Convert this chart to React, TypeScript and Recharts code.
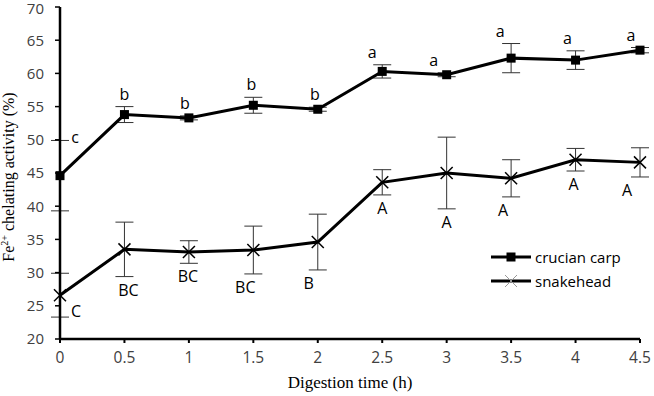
import React from 'react';
import { LineChart, Line, XAxis, YAxis, ErrorBar, LabelList } from 'recharts';

const times = [0, 0.5, 1, 1.5, 2, 2.5, 3, 3.5, 4, 4.5];
const crucianCarp = [44.6, 53.8, 53.3, 55.2, 54.6, 60.3, 59.8, 62.3, 62.0, 63.5];
const crucianCarpSd = [5.3, 1.2, 0.3, 1.2, 0.3, 1.0, 0.3, 2.2, 1.4, 0.4];
const snakehead = [26.6, 33.5, 33.1, 33.4, 34.6, 43.6, 45.0, 44.2, 47.0, 46.6];
const snakeheadSd = [3.3, 4.1, 1.7, 3.6, 4.2, 1.9, 5.4, 2.8, 1.7, 2.2];
const crucianLetters = ['c', 'b', 'b', 'b', 'b', 'a', 'a', 'a', 'a', 'a'];
const snakeheadLetters = ['C', 'BC', 'BC', 'BC', 'B', 'A', 'A', 'A', 'A', 'A'];
const xTicks = [0, 0.5, 1, 1.5, 2, 2.5, 3, 3.5, 4, 4.5];
const yTicks = [20, 25, 30, 35, 40, 45, 50, 55, 60, 65, 70];

const data = times.map((t, i) => ({
  time: t,
  carp: crucianCarp[i],
  carpSd: crucianCarpSd[i],
  snake: snakehead[i],
  snakeSd: snakeheadSd[i],
}));

const W = 654;
const H = 396;
const M = { top: 7, right: 14, bottom: 27, left: 0 };
const Y_AXIS_W = 60;
const X_AXIS_H = 30;
const PLOT_H = H - M.top - M.bottom - X_AXIS_H;
const PX_PER_UNIT = PLOT_H / (70 - 20);

const SANS = '"Open Sans", sans-serif';
const SERIF = '"Liberation Serif", "Times New Roman", serif';

// small horizontal nudges so letters clear the error bars
const carpNudge = [15, 0, -4, -2, -3, -10, -13, -11, -8, -9];
const snakeNudge = [16, 4, -1, -8, -9, 0, 0, -8, -2, -13];

const SquareDot = (props: any) => {
  const { cx, cy } = props;
  if (cx == null || cy == null) return null;
  return <rect x={cx - 4.5} y={cy - 4.5} width={9} height={9} fill="#000" />;
};

const CrossDot = (props: any) => {
  const { cx, cy } = props;
  if (cx == null || cy == null) return null;
  const r = 6;
  return (
    <g stroke="#000" strokeWidth={1.5}>
      <line x1={cx - r} y1={cy - r} x2={cx + r} y2={cy + r} />
      <line x1={cx - r} y1={cy + r} x2={cx + r} y2={cy - r} />
    </g>
  );
};

const carpLabel = (props: any) => {
  const { x, y, index } = props;
  const top = y - crucianCarpSd[index] * PX_PER_UNIT;
  const ly = index === 0 ? top - 2 : top - 12;
  return (
    <text x={x + carpNudge[index]} y={ly} dy={5} textAnchor="middle" fontFamily={SANS} fontSize={16} fill="#000">
      {crucianLetters[index]}
    </text>
  );
};

const snakeLabel = (props: any) => {
  const { x, y, index } = props;
  const bottom = y + snakeheadSd[index] * PX_PER_UNIT;
  const ly = index === 0 ? bottom - 5 : bottom + 14;
  return (
    <text x={x + snakeNudge[index]} y={ly} dy={5} textAnchor="middle" fontFamily={SANS} fontSize={16} fill="#000">
      {snakeheadLetters[index]}
    </text>
  );
};

const yTitle = (props: any) => {
  const { viewBox } = props;
  const cy = viewBox.y + viewBox.height / 2 + 4;
  return (
    <text
      x={14}
      y={cy}
      transform={`rotate(-90, 14, ${cy})`}
      textAnchor="middle"
      fontFamily={SERIF}
      fontSize={16}
      fill="#000"
    >
      Fe<tspan fontSize={10} dy={-6}>2+</tspan>
      <tspan dy={6}> chelating activity (%)</tspan>
    </text>
  );
};

const xTitle = (props: any) => {
  const { viewBox } = props;
  return (
    <text
      x={viewBox.x + viewBox.width / 2}
      y={388}
      textAnchor="middle"
      fontFamily={SERIF}
      fontSize={17}
      fill="#000"
    >
      Digestion time (h)
    </text>
  );
};

const LegendBox = () => (
  <div
    style={{
      position: 'absolute',
      left: 491,
      top: 245,
      fontFamily: SANS,
      fontSize: 15,
      color: '#000',
      lineHeight: '24px',
    }}
  >
    <div style={{ display: 'flex', alignItems: 'center' }}>
      <svg width={44} height={14}>
        <line x1={0} y1={7} x2={40} y2={7} stroke="#000" strokeWidth={3} />
        <rect x={15.5} y={2.5} width={9} height={9} fill="#000" />
      </svg>
      <span>crucian carp</span>
    </div>
    <div style={{ display: 'flex', alignItems: 'center' }}>
      <svg width={44} height={14}>
        <line x1={0} y1={7} x2={40} y2={7} stroke="#000" strokeWidth={3} />
        <g stroke="#999" strokeWidth={1}>
          <line x1={14} y1={1} x2={26} y2={13} />
          <line x1={14} y1={13} x2={26} y2={1} />
        </g>
      </svg>
      <span>snakehead</span>
    </div>
  </div>
);

const App: React.FC = () => {
  return (
    <div style={{ position: 'absolute', left: 0, top: 0, width: W, height: H, background: '#fff' }}>
      <LineChart width={W} height={H} data={data} margin={M}>
        <XAxis
          dataKey="time"
          type="number"
          domain={[0, 4.5]}
          ticks={xTicks}
          height={X_AXIS_H}
          axisLine={{ stroke: '#000', strokeWidth: 2.5 }}
          tickLine={{ stroke: '#000', strokeWidth: 2 }}
          tickSize={4}
          tickMargin={9}
          tick={{ fill: '#404040', fontSize: 15.5, fontFamily: SANS }}
          label={{ content: xTitle }}
        />
        <YAxis
          type="number"
          domain={[20, 70]}
          ticks={yTicks}
          width={Y_AXIS_W}
          axisLine={{ stroke: '#000', strokeWidth: 2.5 }}
          tickLine={{ stroke: '#000', strokeWidth: 1.5 }}
          tickSize={5}
          tickMargin={11}
          tick={{ fill: '#404040', fontSize: 15, fontFamily: SANS }}
          label={{ content: yTitle }}
        />
        <Line
          dataKey="carp"
          name="crucian carp"
          stroke="#000"
          strokeWidth={3}
          dot={<SquareDot />}
          activeDot={false}
          isAnimationActive={false}
        >
          <ErrorBar dataKey="carpSd" width={9} stroke="#333" strokeWidth={1} direction="y" />
          <LabelList dataKey="carp" content={carpLabel} />
        </Line>
        <Line
          dataKey="snake"
          name="snakehead"
          stroke="#000"
          strokeWidth={3}
          dot={<CrossDot />}
          activeDot={false}
          isAnimationActive={false}
        >
          <ErrorBar dataKey="snakeSd" width={9} stroke="#333" strokeWidth={1} direction="y" />
          <LabelList dataKey="snake" content={snakeLabel} />
        </Line>
      </LineChart>
      <LegendBox />
    </div>
  );
};

export default App;
